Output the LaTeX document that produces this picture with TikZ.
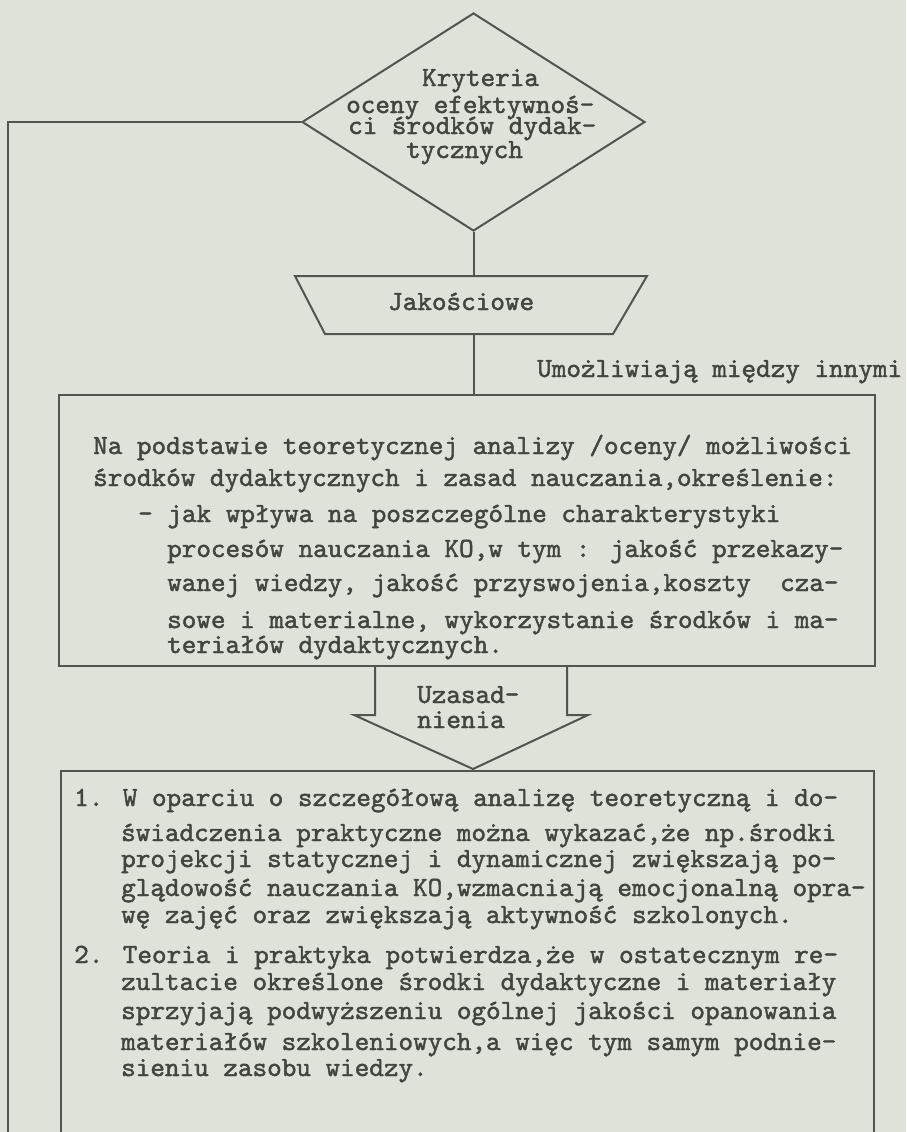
\documentclass[tikz,border=0pt]{standalone}
\usepackage{fontspec}
\newfontfamily\twface{lmmono10-regular.otf}[RawFeature={embolden=1.6}]
\usetikzlibrary{shapes.geometric}
\definecolor{paper}{RGB}{222,226,217}
\definecolor{ink}{RGB}{82,84,78}
\definecolor{txt}{RGB}{66,68,62}
\newcommand\twfont{\fontsize{27.8}{30}\selectfont\twface}
\begin{document}
\begin{tikzpicture}[x=1pt,y=-1pt,
  ln/.style={draw=ink, line width=2pt, line join=miter},
  tl/.style={anchor=base west, inner sep=0pt, text=txt, font=\twfont},
]
\fill[paper] (0,0) rectangle (906,1132);
\useasboundingbox (0,0) rectangle (906,1132);

% shapes
\node[diamond, ln, minimum width=343pt, minimum height=218pt, inner sep=0pt] (dia) at (473.5,122) {};
\node[rectangle, minimum width=352pt, minimum height=58pt, inner sep=0pt, outer sep=0pt] (trap) at (471,305) {};
\draw[ln] (trap.north west) -- (trap.north east) -- ([xshift=-34pt]trap.south east) -- ([xshift=30pt]trap.south west) -- cycle;
\node[rectangle, ln, minimum width=816pt, minimum height=271pt, inner sep=0pt] (box1) at (467,530.5) {};
\node[rectangle, minimum width=813pt, minimum height=380pt, inner sep=0pt, outer sep=0pt] (box2) at (467.5,961) {};
\draw[ln] (box2.south west) -- (box2.north west) -- (box2.north east) -- (box2.south east);

% connectors
\coordinate (lbot) at (8,1145);
\draw[ln] (dia.west) -- (dia.west -| lbot) -- (lbot);
\draw[ln] (dia.south) -- (dia.south |- trap.north);
\draw[ln] (dia.south |- trap.south) -- (dia.south |- box1.north);

% block arrow
\draw[ln] (box1.south -| 375,0) -- (375,715) -- (354,715) -- (473,769) -- (588,715) -- (567,715) -- (box1.south -| 567,0);

% diamond text
\node[tl] (d1) at (422,86) {Kryteria};
\node[tl] (d2) at (346,113) {oceny efektywnoś-};
\node[tl] (d3) at (348,134) {ci środków dydak-};
\node[tl] (d4) at (406,158) {tycznych};

\node[tl] (tq) at (388,310) {Jakościowe};
\node[tl] (um) at (537,377) {Umożliwiają między innymi};

% box 1
\node[tl] (a1) at (93,454) {Na podstawie teoretycznej analizy /oceny/ możliwości};
\node[tl] (a2) at (93,486) {środków dydaktycznych i zasad nauczania,określenie:};
\node[tl] (a3) at (138,522) {- jak wpływa na poszczególne charakterystyki};
\node[tl] (a4) at (167,557) {procesów nauczania KO,w tym : jakość przekazy-};
\node[tl] (a5) at (167,591) {wanej wiedzy, jakość przyswojenia,koszty~ cza-};
\node[tl] (a6) at (167,628) {sowe i materialne, wykorzystanie środków i ma-};
\node[tl] (a7) at (167,653) {teriałów dydaktycznych.};

% arrow text
\node[tl] (u1) at (417,703) {Uzasad-};
\node[tl] (u2) at (417,728) {nienia};

% box 2
\node[tl] (b1) at (74,806) {1. W oparciu o szczegółową analizę teoretyczną i do-};
\node[tl] (b2) at (121,841) {świadczenia praktyczne można wykazać,że np.środki};
\node[tl] (b3) at (121,867) {projekcji statycznej i dynamicznej zwiększają po-};
\node[tl] (b4) at (121,896) {glądowość nauczania KO,wzmacniają emocjonalną opra-};
\node[tl] (b5) at (121,923) {wę zajęć oraz zwiększają aktywność szkolonych.};
\node[tl] (b6) at (74,963) {2. Teoria i praktyka potwierdza,że w ostatecznym re-};
\node[tl] (b7) at (121,990) {zultacie określone środki dydaktyczne i materiały};
\node[tl] (b8) at (121,1019) {sprzyjają podwyższeniu ogólnej jakości opanowania};
\node[tl] (b9) at (121,1050) {materiałów szkoleniowych,a więc tym samym podnie-};
\node[tl] (b10) at (121,1076) {sieniu zasobu wiedzy.};
\end{tikzpicture}
\end{document}
